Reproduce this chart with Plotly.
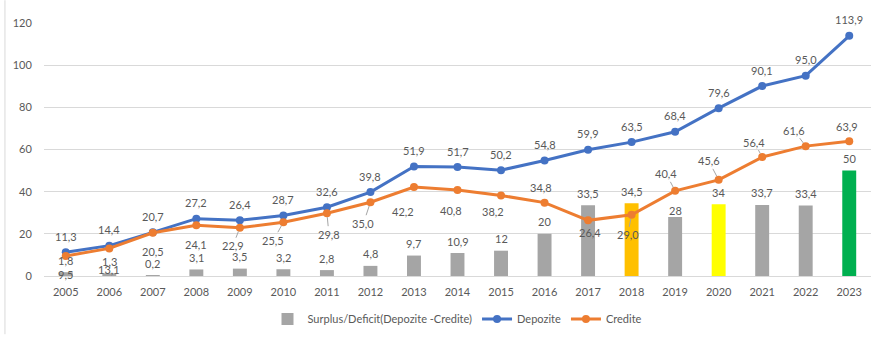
import plotly.graph_objects as go

years = [str(y) for y in range(2005, 2024)]
depozite = [11.3, 14.4, 20.7, 27.2, 26.4, 28.7, 32.6, 39.8, 51.9, 51.7, 50.2, 54.8, 59.9, 63.5, 68.4, 79.6, 90.1, 95.0, 113.9]
credite = [9.5, 13.1, 20.5, 24.1, 22.9, 25.5, 29.8, 35.0, 42.2, 40.8, 38.2, 34.8, 26.4, 29.0, 40.4, 45.6, 56.4, 61.6, 63.9]
surplus = [1.8, 1.3, 0.2, 3.1, 3.5, 3.2, 2.8, 4.8, 9.7, 10.9, 12, 20, 33.5, 34.5, 28, 34, 33.7, 33.4, 50]
surplus_labels = ["1,8", "1,3", "0,2", "3,1", "3,5", "3,2", "2,8", "4,8", "9,7", "10,9", "12", "20",
                  "33,5", "34,5", "28", "34", "33,7", "33,4", "50"]
y_ticks = [0, 20, 40, 60, 80, 100, 120]

# styling
GRAY_BAR = "#A5A5A5"
bar_colors = [GRAY_BAR] * len(years)
bar_colors[years.index("2018")] = "#FFC000"
bar_colors[years.index("2020")] = "#FFFF00"
bar_colors[years.index("2023")] = "#00B050"
BLUE = "#4472C4"
ORANGE = "#ED7D31"
TXT = "#595959"
FONT = "Lato"
FS = 11

def fmt(v):
    return f"{v:.1f}".replace(".", ",")

fig = go.Figure()
fig.add_trace(go.Bar(x=years, y=surplus, name="Surplus/Deficit(Depozite -Credite)",
                     marker=dict(color=bar_colors, line=dict(width=0)), width=0.32))
fig.add_trace(go.Scatter(x=years, y=depozite, name="Depozite", mode="lines+markers",
                         line=dict(color=BLUE, width=3), marker=dict(size=8, color=BLUE)))
fig.add_trace(go.Scatter(x=years, y=credite, name="Credite", mode="lines+markers",
                         line=dict(color=ORANGE, width=3), marker=dict(size=8, color=ORANGE)))

ann = []
# depozite labels (above)  -- x given as category index
for i, v in enumerate(depozite):
    ann.append(dict(x=i, y=v, text=fmt(v), showarrow=False, yshift=16,
                    font=dict(family=FONT, size=FS, color=TXT)))
# surplus labels
sur_shift = [12] * len(years)
sur_shift[years.index("2019")] = 6
for i, (v, t, s) in enumerate(zip(surplus, surplus_labels, sur_shift)):
    ann.append(dict(x=i, y=v, text=t, showarrow=False, yshift=s,
                    font=dict(family=FONT, size=FS, color=TXT)))
# credite labels: (dx, dy) pixel offsets of label (dy positive = up), leader flag
cred_off = [(0, -19, False), (0, -21, False), (0, -19, False), (0, -19, False),
            (-7, -18, True), (-10, -18, True), (2, -21, True), (-7, -21, True),
            (-11, -24, False), (-7, -21, False), (-8, -16, False), (-4, 15, False),
            (2, -12, False), (-4, -20, True), (-9, 17, True), (-10, 19, True),
            (-8, 15, True), (-12, 16, True), (-2, 15, False)]
for i, (v, (dx, dy, lead)) in enumerate(zip(credite, cred_off)):
    if lead:
        ann.append(dict(x=i, y=v, text=fmt(v), showarrow=True, arrowhead=0, arrowwidth=1,
                        arrowcolor=GRAY_BAR, ax=dx, ay=-dy, standoff=4,
                        font=dict(family=FONT, size=FS, color=TXT)))
    else:
        ann.append(dict(x=i, y=v, text=fmt(v), showarrow=False, xshift=dx, yshift=dy,
                        font=dict(family=FONT, size=FS, color=TXT)))

fig.update_layout(
    width=883, height=345,
    margin=dict(l=44, r=12, t=23, b=62),
    plot_bgcolor="white", paper_bgcolor="white",
    font=dict(family=FONT, size=FS, color=TXT),
    showlegend=True,
    legend=dict(orientation="h", x=0.5, xanchor="center", y=-0.17, yanchor="middle",
                font=dict(family=FONT, size=FS, color=TXT), traceorder="normal"),
    annotations=ann,
    shapes=[dict(type="line", xref="paper", yref="paper", x0=-0.0472, x1=-0.0472,
                 y0=-0.23, y1=1.09, line=dict(color="#D9D9D9", width=1))],
)
fig.update_xaxes(type="category", range=[-0.5, len(years) - 0.5], showgrid=False,
                 showline=True, linecolor="#D9D9D9", linewidth=1,
                 ticks="outside", ticklen=6, tickcolor="rgba(0,0,0,0)",
                 tickfont=dict(family=FONT, size=FS, color=TXT))
fig.update_yaxes(range=[0, 120], tickvals=y_ticks, gridcolor="#D9D9D9", gridwidth=1,
                 zeroline=False, showline=False, ticks="outside", ticklen=9,
                 tickcolor="rgba(0,0,0,0)", tickfont=dict(family=FONT, size=FS, color=TXT))

fig.write_html("out.html", config={"displayModeBar": False},
               post_script="document.body.style.margin='0';document.body.style.overflow='hidden';")
